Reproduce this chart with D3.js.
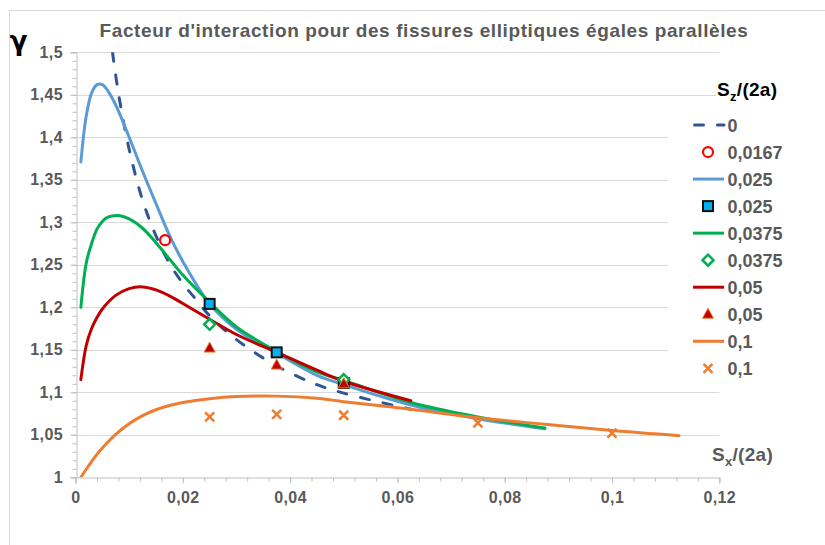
<!DOCTYPE html>
<html><head><meta charset="utf-8">
<script src="https://cdn.jsdelivr.net/npm/d3@7"></script>
<style>
body{margin:0;background:#fff}
text{font-family:"Liberation Sans",Arial,sans-serif}
</style>
</head><body>
<svg id="chart" width="825" height="545"></svg>
<script>
// ---- Data ----
const xTicks = [0, 0.02, 0.04, 0.06, 0.08, 0.1, 0.12];
const xTickLabels = ["0", "0,02", "0,04", "0,06", "0,08", "0,1", "0,12"];
const yTicks = [1, 1.05, 1.1, 1.15, 1.2, 1.25, 1.3, 1.35, 1.4, 1.45, 1.5];
const yTickLabels = ["1", "1,05", "1,1", "1,15", "1,2", "1,25", "1,3", "1,35", "1,4", "1,45", "1,5"];

// Sz/(2a) = 0 (dashed)
const x0 = [0.0069, 0.008, 0.01, 0.0125, 0.015, 0.0175, 0.02, 0.0225, 0.025, 0.03, 0.0375, 0.045, 0.05, 0.0625];
const g0 = [1.500, 1.452, 1.386, 1.326, 1.284, 1.252, 1.228, 1.209, 1.190, 1.162, 1.131, 1.109, 1.099, 1.080];
// 0.0167 points
const xP0167 = [0.0167];
const gP0167 = [1.279];
// 0.025 curve
const x025 = [0.001, 0.002, 0.003, 0.004, 0.005, 0.006, 0.0075, 0.01, 0.0125, 0.015, 0.0175, 0.02, 0.025, 0.03, 0.0375, 0.045, 0.05, 0.0625, 0.075, 0.0875];
const g025 = [1.371, 1.425, 1.452, 1.462, 1.462, 1.455, 1.438, 1.400, 1.360, 1.322, 1.285, 1.254, 1.204, 1.174, 1.146, 1.120, 1.109, 1.085, 1.069, 1.057];
// 0.025 points
const xP025 = [0.025, 0.0375, 0.05];
const gP025 = [1.204, 1.147, 1.111];
// 0.0375 curve
const x0375 = [0.001, 0.002, 0.003, 0.004, 0.005, 0.006, 0.008, 0.01, 0.0125, 0.015, 0.0175, 0.02, 0.025, 0.03, 0.0375, 0.045, 0.05, 0.0625, 0.075, 0.0875];
const g0375 = [1.200, 1.252, 1.275, 1.292, 1.301, 1.306, 1.308, 1.304, 1.293, 1.276, 1.257, 1.238, 1.206, 1.177, 1.148, 1.124, 1.114, 1.088, 1.071, 1.058];
// 0.0375 points
const xP0375 = [0.025, 0.05];
const gP0375 = [1.180, 1.115];
// 0.05 curve
const x05 = [0.001, 0.002, 0.003, 0.004, 0.005, 0.0075, 0.01, 0.0125, 0.015, 0.0175, 0.02, 0.025, 0.03, 0.0375, 0.045, 0.05, 0.0625];
const g05 = [1.115, 1.155, 1.175, 1.188, 1.198, 1.214, 1.222, 1.224, 1.2205, 1.2135, 1.2045, 1.186, 1.168, 1.147, 1.126, 1.113, 1.090];
// 0.05 points
const xP05 = [0.025, 0.0375, 0.05];
const gP05 = [1.152, 1.132, 1.110];
// 0.1 curve
const x01 = [0.001, 0.002, 0.003, 0.004, 0.005, 0.0075, 0.01, 0.0125, 0.015, 0.0175, 0.02, 0.025, 0.03, 0.0375, 0.045, 0.05, 0.0625, 0.075, 0.0875, 0.1, 0.1125];
const g01 = [1.000, 1.0095, 1.0185, 1.027, 1.0345, 1.0505, 1.063, 1.0725, 1.0795, 1.0845, 1.088, 1.0925, 1.095, 1.0955, 1.093, 1.089, 1.080, 1.070, 1.0625, 1.055, 1.049];
// 0.1 points
const xP01 = [0.025, 0.0375, 0.05, 0.075, 0.1];
const gP01 = [1.071, 1.074, 1.073, 1.064, 1.052];

const legendLabels = ["0", "0,0167", "0,025", "0,025", "0,0375", "0,0375", "0,05", "0,05", "0,1", "0,1"];

// ---- Chart ----
const svg = d3.select("#chart");
const gray = "#595959";
const x = d3.scaleLinear().domain([0, 0.12]).range([75.5, 719.3]);
const y = d3.scaleLinear().domain([1, 1.5]).range([477.3, 52.3]);

svg.append("rect").attr("width", 825).attr("height", 545).attr("fill", "#fff");
svg.append("rect").attr("x", 9.5).attr("y", 10.5).attr("width", 840).attr("height", 560)
  .attr("fill", "none").attr("stroke", "#d9d9d9");

// gridlines
svg.append("g").selectAll("line").data(yTicks.slice(1)).join("line")
  .attr("x1", x(0)).attr("x2", x(0.12))
  .attr("y1", d => Math.round(y(d)) + 0.5).attr("y2", d => Math.round(y(d)) + 0.5)
  .attr("stroke", "#d9d9d9").attr("stroke-width", 1);

// axes
const lab = (ticks, labels) => d => labels[ticks.indexOf(d)];
const xMinor = d3.range(0, 0.1201, 0.004);
const yMinor = d3.range(1, 1.5001, 0.01);

const gxMinor = svg.append("g").attr("transform", `translate(0,${Math.round(y(1)) + 0.5})`)
  .call(d3.axisBottom(x).tickValues(xMinor).tickSize(4).tickFormat(""));
const gx = svg.append("g").attr("transform", `translate(0,${Math.round(y(1)) + 0.5})`)
  .call(d3.axisBottom(x).tickValues(xTicks).tickSize(6).tickPadding(8.5).tickFormat(lab(xTicks, xTickLabels)));
const gyMinor = svg.append("g").attr("transform", `translate(${Math.round(x(0)) + 0.5},0)`)
  .call(d3.axisLeft(y).tickValues(yMinor).tickSize(4).tickFormat(""));
const gy = svg.append("g").attr("transform", `translate(${Math.round(x(0)) + 0.5},0)`)
  .call(d3.axisLeft(y).tickValues(yTicks).tickSize(6).tickPadding(7.5).tickFormat(lab(yTicks, yTickLabels)));
[gx, gy, gxMinor, gyMinor].forEach(g => {
  g.selectAll("path.domain").attr("stroke", "#bfbfbf");
  g.selectAll(".tick line").attr("stroke", "#bfbfbf");
  g.selectAll("text").attr("fill", gray).attr("font-size", 16).attr("font-weight", "bold")
    .attr("letter-spacing", "0.4px");
});
gyMinor.select("path.domain").remove();
gxMinor.select("path.domain").remove();

// curves
const clipId = "plotclip";
svg.append("clipPath").attr("id", clipId).append("rect")
  .attr("x", x(0)).attr("y", y(1.5)).attr("width", x(0.12) - x(0)).attr("height", y(1) - y(1.5));
const line = d3.line().x(d => x(d[0])).y(d => y(d[1])).curve(d3.curveCatmullRom.alpha(0.5));
const zip = (a, b) => a.map((v, i) => [v, b[i]]);
const curves = [
  {xs: x0, gs: g0, color: "#2f5597", dash: "9,14"},
  {xs: x025, gs: g025, color: "#5b9bd5"},
  {xs: x0375, gs: g0375, color: "#00b050"},
  {xs: x05, gs: g05, color: "#c00000"},
  {xs: x01, gs: g01, color: "#ed7d31"}
];
const cg = svg.append("g").attr("clip-path", `url(#${clipId})`);
curves.forEach(c => {
  cg.append("path").attr("d", line(zip(c.xs, c.gs)))
    .attr("fill", "none").attr("stroke", c.color).attr("stroke-width", 3)
    .attr("stroke-linecap", "round")
    .attr("stroke-dasharray", c.dash || null);
});

// markers
function drawMarker(g, type, cx, cy) {
  if (type === "circle") {
    g.append("circle").attr("cx", cx).attr("cy", cy).attr("r", 5)
      .attr("fill", "#fff").attr("stroke", "#ff0000").attr("stroke-width", 2.2);
  } else if (type === "square") {
    g.append("rect").attr("x", cx - 5).attr("y", cy - 5).attr("width", 10).attr("height", 10)
      .attr("fill", "#00b0f0").attr("stroke", "#111").attr("stroke-width", 2);
  } else if (type === "diamond") {
    g.append("path").attr("d", `M${cx},${cy - 5.5}L${cx + 5.5},${cy}L${cx},${cy + 5.5}L${cx - 5.5},${cy}Z`)
      .attr("fill", "#fff").attr("stroke", "#00b050").attr("stroke-width", 2.5);
  } else if (type === "triangle") {
    g.append("path").attr("d", `M${cx},${cy - 6}L${cx + 5.5},${cy + 4}L${cx - 5.5},${cy + 4}Z`)
      .attr("fill", "#c00000").attr("stroke", "#ed7d31").attr("stroke-width", 1);
  } else if (type === "x") {
    g.append("path").attr("d", `M${cx - 4.5},${cy - 4.5}L${cx + 4.5},${cy + 4.5}M${cx + 4.5},${cy - 4.5}L${cx - 4.5},${cy + 4.5}`)
      .attr("stroke", "#ed7d31").attr("stroke-width", 2.5).attr("fill", "none");
  }
}
const pointSeries = [
  {xs: xP0167, gs: gP0167, type: "circle"},
  {xs: xP025, gs: gP025, type: "square"},
  {xs: xP0375, gs: gP0375, type: "diamond"},
  {xs: xP05, gs: gP05, type: "triangle"},
  {xs: xP01, gs: gP01, type: "x"}
];
const mg = svg.append("g");
pointSeries.forEach(s => s.xs.forEach((v, i) => drawMarker(mg, s.type, x(v), y(s.gs[i]))));

// title
svg.append("text").attr("x", 424).attr("y", 36.5).attr("text-anchor", "middle")
  .attr("font-size", 19).attr("font-weight", "bold").attr("fill", gray).attr("letter-spacing", "0.6px")
  .text("Facteur d'interaction pour des fissures elliptiques égales parallèles");

// gamma
svg.append("text").attr("x", 18.5).attr("y", 50).attr("text-anchor", "middle")
  .style("font-family", "'DejaVu Sans', sans-serif")
  .attr("font-size", 26).attr("font-weight", "bold").attr("fill", "#000").text("γ");

// x axis title
const xt = svg.append("text").attr("x", 712).attr("y", 461).attr("font-size", 19)
  .attr("font-weight", "bold").attr("fill", gray).attr("letter-spacing", "0.3px");
xt.append("tspan").text("S");
xt.append("tspan").attr("font-size", 13).attr("dy", 5).text("x");
xt.append("tspan").attr("dy", -5).text("/(2a)");

// legend
svg.append("rect").attr("x", 668).attr("y", 110).attr("width", 157).attr("height", 272).attr("fill", "#fff");
svg.append("rect").attr("x", 716).attr("y", 76).attr("width", 70).attr("height", 26).attr("fill", "#fff");
const lt = svg.append("text").attr("x", 717).attr("y", 96).attr("font-size", 19)
  .attr("font-weight", "bold").attr("fill", "#000").attr("letter-spacing", "0.3px");
lt.append("tspan").text("S");
lt.append("tspan").attr("font-size", 13).attr("dy", 5).text("z");
lt.append("tspan").attr("dy", -5).text("/(2a)");

const legendItems = [
  {kind: "line", color: "#2f5597", dash: "9,14"},
  {kind: "circle"},
  {kind: "line", color: "#5b9bd5"},
  {kind: "square"},
  {kind: "line", color: "#00b050"},
  {kind: "diamond"},
  {kind: "line", color: "#c00000"},
  {kind: "triangle"},
  {kind: "line", color: "#ed7d31"},
  {kind: "x"}
];
const lg = svg.append("g");
const rowY = d3.scaleLinear().domain([0, 9]).range([125, 368.3]);
legendItems.forEach((it, i) => {
  const cy = rowY(i);
  if (it.kind === "line") {
    lg.append("line").attr("x1", it.dash ? 694.5 : 693).attr("x2", 724).attr("y1", cy).attr("y2", cy)
      .attr("stroke", it.color).attr("stroke-width", 3)
      .attr("stroke-linecap", it.dash ? "round" : "butt")
      .attr("stroke-dasharray", it.dash ? "9,14" : null);
  } else {
    drawMarker(lg, it.kind, 708, cy);
  }
  lg.append("text").attr("x", 727.5).attr("y", cy + 6.5).attr("font-size", 18)
    .attr("font-weight", "bold").attr("fill", gray).text(legendLabels[i]);
});
</script>
</body></html>
